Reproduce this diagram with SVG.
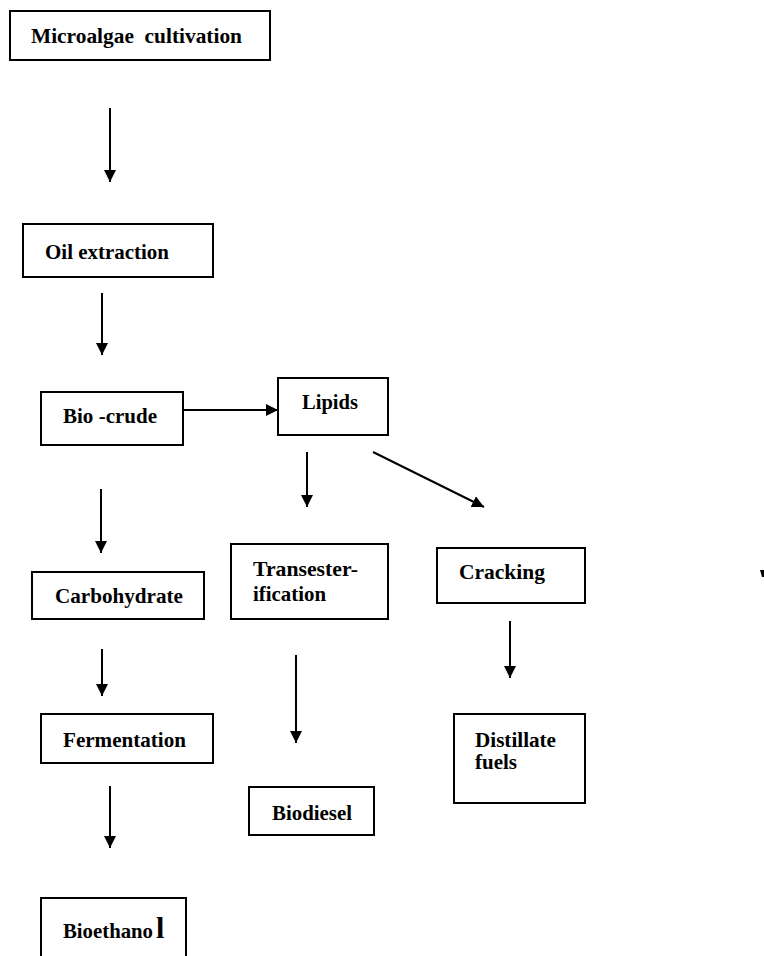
<svg xmlns="http://www.w3.org/2000/svg" width="764" height="956" viewBox="0 0 764 956">
<style>
.box{fill:#fff;stroke:#000;stroke-width:2}
.t{font-family:"Liberation Serif","Times New Roman",serif;font-weight:bold;font-size:21px;fill:#000;white-space:pre}
.c{stroke:#000;stroke-width:2;fill:none;marker-end:url(#ah)}
</style>
<defs>
<marker id="ah" markerUnits="userSpaceOnUse" markerWidth="12" markerHeight="12" viewBox="0 0 10 10" refX="10" refY="5" orient="auto">
<path d="M0,0 L10,5 L0,10 Z" fill="#000"/>
</marker>
</defs>
<rect width="764" height="956" fill="#fff"/>
<g id="connectors">
<line class="c" x1="110" y1="108" x2="110" y2="182"/>
<line class="c" x1="102" y1="293" x2="102" y2="355"/>
<line class="c" x1="180" y1="410" x2="278" y2="410"/>
<line class="c" x1="307" y1="452" x2="307" y2="507"/>
<line class="c" x1="373" y1="452" x2="484" y2="507"/>
<line class="c" x1="101" y1="489" x2="101" y2="553"/>
<line class="c" x1="102" y1="649" x2="102" y2="696"/>
<line class="c" x1="110" y1="786" x2="110" y2="848"/>
<line class="c" x1="296" y1="655" x2="296" y2="743"/>
<line class="c" x1="510" y1="621" x2="510" y2="678"/>
<polygon points="760,570 764,570 764,577 762,577" fill="#000"/>
</g>
<g id="microalgae">
<rect class="box" x="10" y="11" width="260" height="49"/>
<text class="t" x="31" y="43" textLength="211" lengthAdjust="spacingAndGlyphs">Microalgae  cultivation</text>
</g>
<g id="oil-extraction">
<rect class="box" x="23" y="224" width="190" height="53"/>
<text class="t" x="45" y="259" textLength="124" lengthAdjust="spacingAndGlyphs">Oil extraction</text>
</g>
<g id="bio-crude">
<rect class="box" x="41" y="392" width="142" height="53"/>
<text class="t" x="63" y="423" textLength="94" lengthAdjust="spacingAndGlyphs">Bio -crude</text>
</g>
<g id="lipids">
<rect class="box" x="278" y="378" width="110" height="57"/>
<text class="t" x="302" y="409" textLength="56" lengthAdjust="spacingAndGlyphs">Lipids</text>
</g>
<g id="transesterification">
<rect class="box" x="231" y="544" width="157" height="75"/>
<text class="t" x="253" y="576" textLength="105" lengthAdjust="spacingAndGlyphs">Transester-</text>
<text class="t" x="253" y="601" textLength="73" lengthAdjust="spacingAndGlyphs">ification</text>
</g>
<g id="cracking">
<rect class="box" x="437" y="548" width="148" height="55"/>
<text class="t" x="459" y="579" textLength="86" lengthAdjust="spacingAndGlyphs">Cracking</text>
</g>
<g id="carbohydrate">
<rect class="box" x="32" y="572" width="172" height="47"/>
<text class="t" x="55" y="603" textLength="128" lengthAdjust="spacingAndGlyphs">Carbohydrate</text>
</g>
<g id="fermentation">
<rect class="box" x="41" y="714" width="172" height="49"/>
<text class="t" x="63" y="747" textLength="123" lengthAdjust="spacingAndGlyphs">Fermentation</text>
</g>
<g id="biodiesel">
<rect class="box" x="249" y="787" width="125" height="48"/>
<text class="t" x="272" y="820" textLength="80" lengthAdjust="spacingAndGlyphs">Biodiesel</text>
</g>
<g id="distillate">
<rect class="box" x="454" y="714" width="131" height="89"/>
<text class="t" x="475" y="747" textLength="81" lengthAdjust="spacingAndGlyphs">Distillate</text>
<text class="t" x="475" y="769" textLength="42" lengthAdjust="spacingAndGlyphs">fuels</text>
</g>
<g id="bioethanol">
<rect class="box" x="41" y="898" width="145" height="70"/>
<text class="t" x="63" y="938"><tspan textLength="90" lengthAdjust="spacingAndGlyphs">Bioethano</tspan><tspan x="156" style="font-size:30px">l</tspan></text>
</g>
</svg>
